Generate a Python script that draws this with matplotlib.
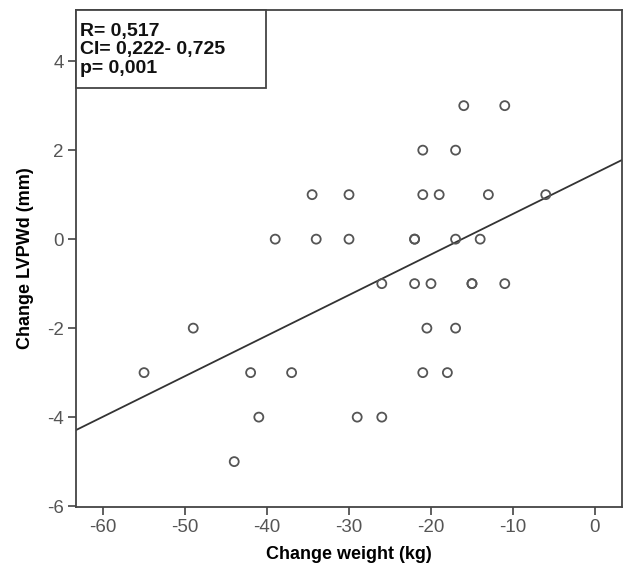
import numpy as np
import matplotlib
matplotlib.use("Agg")
import matplotlib.pyplot as plt
from matplotlib.patches import Rectangle

# change in weight (kg) vs change in LVPWd (mm)
weight = [-55, -49, -44, -42, -41, -39, -37, -34.5, -34, -30, -30, -29,
          -26, -26, -22, -22, -22, -21, -21, -21, -20.5, -20, -19, -18,
          -17, -17, -17, -16, -15, -15, -14, -13, -11, -11, -6]
lvpwd = [-3, -2, -5, -3, -4, 0, -3, 1, 0, 1, 0, -4,
         -1, -4, 0, 0, -1, 2, 1, -3, -2, -1, 1, -3,
         2, 0, -2, 3, -1, -1, 0, 1, 3, -1, 1]
stats_lines = ["R= 0,517", "CI= 0,222- 0,725", "p= 0,001"]
xticks = [-60, -50, -40, -30, -20, -10, 0]
yticks = [-6, -4, -2, 0, 2, 4]

plt.rcParams['font.family'] = ['Liberation Sans', 'DejaVu Sans']
plt.rcParams['axes.unicode_minus'] = False

fig = plt.figure(figsize=(6.24, 5.71), dpi=100)
ax = fig.add_axes([76/624, 64/571, 546/624, 497/571])

ax.scatter(weight, lvpwd, s=42, facecolors='none', edgecolors='#555555',
           linewidths=1.3, zorder=3)

xlim = (-63.3, 3.3)
slope, icpt = np.polyfit(weight, lvpwd, 1)
xs = np.array(xlim)
ax.plot(xs, icpt + slope*xs, color='#333333', lw=1.3, zorder=2)

ax.set_xlim(*xlim)
ax.set_ylim(-6.02, 5.15)
ax.set_xticks(xticks)
ax.set_yticks(yticks)
ax.tick_params(direction='out', length=6, width=1.2, color='#444444',
               labelcolor='#555555', labelsize=13.5, pad=3)
for sp in ax.spines.values():
    sp.set_color('#444444')
    sp.set_linewidth(1.3)

ax.set_xlabel("Change weight (kg)", fontsize=13, fontweight='bold', labelpad=7)
ax.set_ylabel("Change LVPWd (mm)", fontsize=13, fontweight='bold', labelpad=9)

# stats box
ax.add_patch(Rectangle((0, 1 - 78/497), 190/546, 78/497, transform=ax.transAxes,
                       facecolor='white', edgecolor='#444444', lw=1.3,
                       zorder=4, clip_on=False))
ax.text(4/546, 1 - 13/497, "\n".join(stats_lines), transform=ax.transAxes,
        ha='left', va='top', fontsize=14, fontweight='bold', linespacing=1.1,
        color='#111111', zorder=5)

fig.savefig("out.png", dpi=100)
